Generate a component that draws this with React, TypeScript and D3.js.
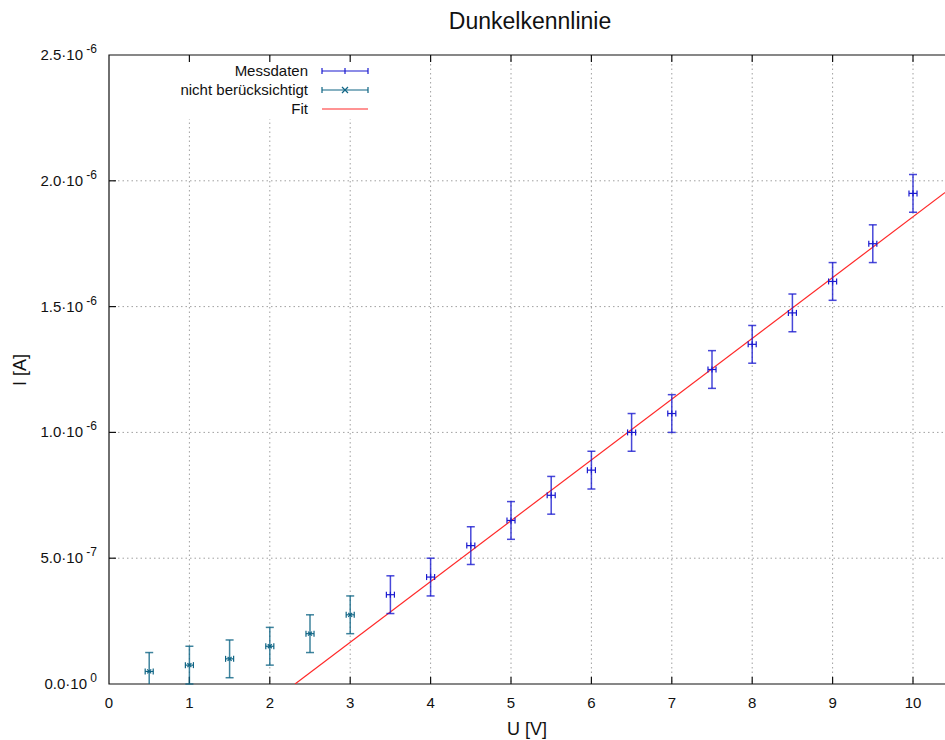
import React from 'react';
import * as d3 from 'd3';

// measured data (U in V, I in A)
const ignoredU = [0.5, 1, 1.5, 2, 2.5, 3];
const ignoredI = [0.05e-6, 0.075e-6, 0.1e-6, 0.15e-6, 0.2e-6, 0.275e-6];
const measU = [3.5, 4, 4.5, 5, 5.5, 6, 6.5, 7, 7.5, 8, 8.5, 9, 9.5, 10];
const measI = [
  0.355e-6, 0.425e-6, 0.55e-6, 0.65e-6, 0.75e-6, 0.85e-6, 1.0e-6,
  1.075e-6, 1.25e-6, 1.35e-6, 1.475e-6, 1.6e-6, 1.75e-6, 1.95e-6,
];
const errU = 0.05;
const errI = 0.075e-6;
// linear fit I = a*U + b
const fitA = 0.2416e-6;
const fitB = -0.559e-6;

const xTicks = [0, 1, 2, 3, 4, 5, 6, 7, 8, 9, 10];
const yTicks = [0, 0.5e-6, 1.0e-6, 1.5e-6, 2.0e-6, 2.5e-6];
const legendLabels = ['Messdaten', 'nicht berücksichtigt', 'Fit'];

const W = 945;
const H = 740;
const FONT = '"Liberation Sans", Arial, sans-serif';
const BLUE = '#1a1ad0';
const TEAL = '#0e6484';
const RED = '#ff2828';

const margin = { left: 109, top: 55, bottom: 684 };

const App = () => {
  const x = d3.scaleLinear().domain([0, 10.4]).range([margin.left, margin.left + 10.4 * 80.4]);
  const y = d3.scaleLinear().domain([0, 2.5e-6]).range([margin.bottom, margin.top]);
  const right = x(10.4);

  const sciLabel = (v: number) => {
    if (v === 0) return { m: '0.0', e: '0' };
    const e = Math.floor(Math.log10(v) + 1e-9);
    return { m: (v / Math.pow(10, e)).toFixed(1), e: String(e) };
  };

  const errorBar = (u: number, i: number, color: string, marker: 'plus' | 'x', key: string) => {
    const cx = x(u);
    const cy = y(i);
    const yTop = y(i + errI);
    const yBot = Math.min(y(i - errI), margin.bottom);
    const xl = x(u - errU);
    const xr = x(u + errU);
    return (
      <g key={key} stroke={color} fill="none">
        <line x1={cx} x2={cx} y1={yTop} y2={yBot} strokeWidth={1.5} strokeOpacity={0.8} />
        <line x1={cx - 4} x2={cx + 4} y1={yTop} y2={yTop} strokeWidth={1.5} strokeOpacity={0.8} />
        {y(i - errI) <= margin.bottom && (
          <line x1={cx - 4} x2={cx + 4} y1={yBot} y2={yBot} strokeWidth={1.5} strokeOpacity={0.8} />
        )}
        <line x1={xl} x2={xr} y1={cy} y2={cy} strokeWidth={1.2} />
        <line x1={xl} x2={xl} y1={cy - 3} y2={cy + 3} strokeWidth={1.2} />
        <line x1={xr} x2={xr} y1={cy - 3} y2={cy + 3} strokeWidth={1.2} />
        {marker === 'x' ? (
          <path d={`M${cx - 2},${cy - 2}L${cx + 2},${cy + 2}M${cx - 2},${cy + 2}L${cx + 2},${cy - 2}`} strokeWidth={1.2} />
        ) : (
          <path d={`M${cx},${cy - 3}V${cy + 3}`} strokeWidth={1.2} />
        )}
      </g>
    );
  };

  // fit line from zero crossing to right edge
  const u0 = -fitB / fitA;
  const u1 = 10.4;
  const fitLine = d3.line<number>()
    .x(u => x(u))
    .y(u => y(fitA * u + fitB));

  const legendY = [71, 90, 109];

  return (
    <svg width={W} height={H} style={{ position: 'absolute', left: 0, top: 0 }} fontFamily={FONT}>
      <rect width={W} height={H} fill="#fff" />
      <text x={530} y={29} textAnchor="middle" fontSize={23} fill="#111">Dunkelkennlinie</text>

      {/* grid */}
      <g stroke="#a0a0a0" strokeDasharray="1.5,3" strokeWidth={1}>
        {xTicks.filter(t => t > 0).map(t => (
          <line key={'gx' + t} x1={x(t)} x2={x(t)} y1={margin.top} y2={margin.bottom} />
        ))}
        {yTicks.filter(t => t > 0 && t < 2.5e-6).map(t => (
          <line key={'gy' + t} x1={margin.left} x2={right} y1={y(t)} y2={y(t)} />
        ))}
      </g>

      {/* legend box blanks the grid */}
      <rect x={165} y={57} width={210} height={62} fill="#fff" />

      {/* axes frame */}
      <g stroke="#111" strokeWidth={1.2} fill="none">
        <path d={`M${right},${margin.top}H${margin.left}V${margin.bottom}H${right}`} />
        {xTicks.filter(t => t > 0).map(t => (
          <g key={'tx' + t}>
            <line x1={x(t)} x2={x(t)} y1={margin.bottom} y2={margin.bottom - 7} />
            <line x1={x(t)} x2={x(t)} y1={margin.top} y2={margin.top + 7} />
          </g>
        ))}
        {yTicks.filter(t => t > 0 && t < 2.5e-6).map(t => (
          <line key={'ty' + t} x1={margin.left} x2={margin.left + 7} y1={y(t)} y2={y(t)} />
        ))}
      </g>

      {/* tick labels */}
      <g fontSize={15} fill="#111">
        {xTicks.map(t => (
          <text key={'lx' + t} x={x(t)} y={708} textAnchor="middle">{t}</text>
        ))}
        {yTicks.map(t => {
          const l = sciLabel(t);
          return (
            <text key={'ly' + t} x={97} y={y(t) + 5} textAnchor="end">
              {l.m}·10<tspan dy={-7} fontSize={12}>{' ' + l.e}</tspan>
            </text>
          );
        })}
      </g>

      <text x={527} y={735} textAnchor="middle" fontSize={18} fill="#111">U [V]</text>
      <text transform={`translate(26,370) rotate(-90)`} textAnchor="middle" fontSize={18} fill="#111">I [A]</text>

      {/* data */}
      <defs>
        <clipPath id="plotClip">
          <rect x={margin.left} y={margin.top} width={right - margin.left} height={margin.bottom - margin.top} />
        </clipPath>
      </defs>
      <path d={fitLine([u0, u1]) || ''} stroke={RED} strokeWidth={1.2} fill="none" clipPath="url(#plotClip)" />
      {ignoredU.map((u, k) => errorBar(u, ignoredI[k], TEAL, 'x', 'ig' + k))}
      {measU.map((u, k) => errorBar(u, measI[k], BLUE, 'plus', 'me' + k))}

      {/* legend */}
      <g fontSize={15} fill="#111">
        {legendLabels.map((l, k) => (
          <text key={l} x={308} y={legendY[k] + 5} textAnchor="end">{l}</text>
        ))}
      </g>
      <g strokeWidth={1.2} fill="none">
        <g stroke={BLUE}>
          <path d={`M322,${legendY[0]}H368M322,${legendY[0] - 3}v6M368,${legendY[0] - 3}v6M345,${legendY[0] - 3}v6`} />
        </g>
        <g stroke={TEAL}>
          <path d={`M322,${legendY[1]}H368M322,${legendY[1] - 3}v6M368,${legendY[1] - 3}v6`} />
          <path d={`M342,${legendY[1] - 3}l6,6M342,${legendY[1] + 3}l6,-6`} />
        </g>
        <path d={`M322,${legendY[2]}H368`} stroke={RED} />
      </g>
    </svg>
  );
};

export default App;
